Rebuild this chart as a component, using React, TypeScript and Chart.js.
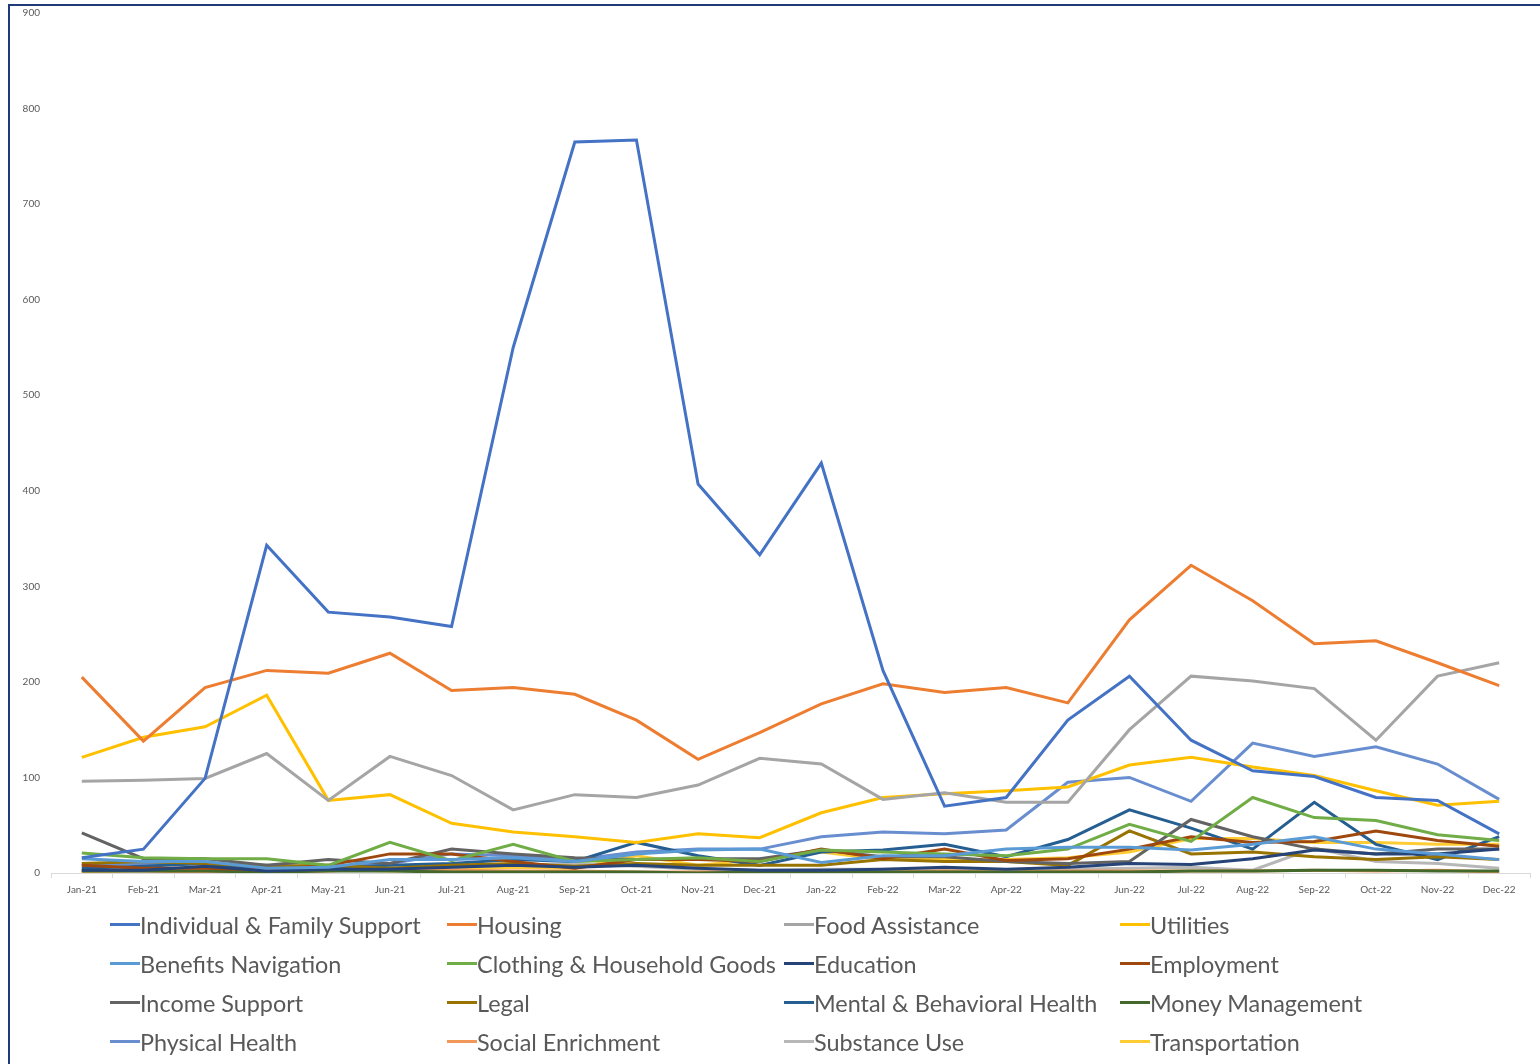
import React, { useEffect, useRef } from "react";
import { Chart, registerables } from "chart.js";

Chart.register(...registerables);

const months = [
  "Jan-21", "Feb-21", "Mar-21", "Apr-21", "May-21", "Jun-21", "Jul-21", "Aug-21", "Sep-21", "Oct-21", "Nov-21", "Dec-21",
  "Jan-22", "Feb-22", "Mar-22", "Apr-22", "May-22", "Jun-22", "Jul-22", "Aug-22", "Sep-22", "Oct-22", "Nov-22", "Dec-22",
];

const seriesNames = [
  "Individual & Family Support", "Housing", "Food Assistance", "Utilities",
  "Benefits Navigation", "Clothing & Household Goods", "Education", "Employment",
  "Income Support", "Legal", "Mental & Behavioral Health", "Money Management",
  "Physical Health", "Social Enrichment", "Substance Use", "Transportation",
];

const seriesColors = [
  "#4472C4", "#ED7D31", "#A5A5A5", "#FFC000",
  "#5B9BD5", "#70AD47", "#264478", "#9E480E",
  "#636363", "#997300", "#255E91", "#43682B",
  "#698ED0", "#F1975A", "#B7B7B7", "#FFCD33",
];

const individualFamily = [16, 25, 99, 343, 273, 268, 258, 550, 765, 767, 407, 333, 429, 212, 70, 79, 160, 206, 139, 107, 101, 79, 76, 41];
const housing = [205, 138, 194, 212, 209, 230, 191, 194, 187, 160, 119, 147, 177, 198, 189, 194, 178, 265, 322, 285, 240, 243, 220, 196];
const foodAssistance = [96, 97, 99, 125, 76, 122, 102, 66, 82, 79, 92, 120, 114, 77, 84, 74, 74, 150, 206, 201, 193, 139, 206, 220];
const utilities = [121, 142, 153, 186, 76, 82, 52, 43, 38, 32, 41, 37, 63, 79, 83, 86, 90, 113, 121, 111, 102, 86, 71, 75];
const benefitsNavigation = [15, 12, 12, 5, 6, 14, 14, 16, 12, 20, 24, 25, 11, 18, 18, 25, 27, 27, 24, 30, 38, 25, 20, 14];
const clothingHousehold = [21, 16, 15, 15, 8, 32, 13, 30, 12, 14, 16, 12, 24, 22, 20, 18, 25, 51, 33, 79, 58, 55, 40, 34];
const education = [3, 3, 7, 2, 4, 4, 6, 8, 6, 8, 5, 3, 3, 4, 6, 4, 6, 10, 9, 15, 24, 20, 20, 25];
const employment = [8, 5, 5, 3, 8, 20, 20, 12, 5, 14, 14, 12, 25, 15, 25, 13, 15, 25, 38, 32, 33, 44, 34, 28];
const incomeSupport = [42, 15, 15, 8, 14, 10, 25, 20, 16, 14, 15, 15, 24, 17, 17, 12, 10, 12, 56, 38, 25, 20, 25, 25];
const legal = [10, 12, 10, 7, 8, 5, 8, 10, 7, 10, 8, 8, 8, 14, 12, 12, 8, 44, 20, 22, 17, 14, 17, 14];
const mentalBehavioral = [5, 7, 10, 3, 5, 8, 10, 14, 12, 32, 18, 8, 22, 24, 30, 17, 35, 66, 47, 25, 74, 30, 14, 38];
const moneyManagement = [2, 2, 2, 1, 2, 2, 1, 1, 1, 1, 0, 1, 1, 1, 1, 1, 1, 1, 2, 2, 3, 3, 2, 2];
const physicalHealth = [8, 10, 10, 8, 6, 10, 20, 18, 14, 22, 25, 25, 38, 43, 41, 45, 95, 100, 75, 136, 122, 132, 114, 77];
const socialEnrichment = [2, 2, 1, 1, 2, 5, 3, 2, 2, 1, 1, 1, 1, 1, 2, 1, 2, 2, 2, 2, 3, 2, 3, 1];
const substanceUse = [3, 4, 4, 2, 3, 4, 6, 8, 10, 7, 4, 3, 4, 4, 4, 2, 4, 5, 6, 3, 26, 12, 10, 5];
const transportation = [1, 3, 2, 8, 4, 2, 4, 6, 5, 18, 8, 14, 22, 14, 14, 14, 16, 22, 36, 36, 32, 32, 30, 30];

const seriesValues = [
  individualFamily, housing, foodAssistance, utilities,
  benefitsNavigation, clothingHousehold, education, employment,
  incomeSupport, legal, mentalBehavioral, moneyManagement,
  physicalHealth, socialEnrichment, substanceUse, transportation,
];

const yMin = 0;
const yMax = 900;
const yStep = 100;

const FONT = "Lato, 'Open Sans', sans-serif";

export default function App() {
  const canvasRef = useRef<HTMLCanvasElement | null>(null);

  useEffect(() => {
    const canvas = canvasRef.current;
    if (!canvas) return;
    const chart = new Chart(canvas, {
      type: "line",
      data: {
        labels: months,
        datasets: seriesNames.map((name, i) => ({
          label: name,
          data: seriesValues[i],
          borderColor: seriesColors[i],
          backgroundColor: seriesColors[i],
          borderWidth: 3,
          pointRadius: 0,
          tension: 0,
          fill: false,
        })),
      },
      options: {
        animation: false,
        responsive: false,
        devicePixelRatio: 1,
        layout: { padding: { top: 8, right: 10, bottom: 0, left: 0 } },
        plugins: {
          legend: { display: false },
          tooltip: { enabled: false },
        },
        scales: {
          x: {
            offset: true,
            grid: {
              display: true,
              drawOnChartArea: false,
              drawTicks: true,
              tickLength: 5,
              color: "#D9D9D9",
              offset: true,
            },
            border: { display: true, color: "#D9D9D9", width: 1 },
            ticks: {
              color: "#595959",
              font: { family: FONT, size: 10 },
              maxRotation: 0,
              autoSkip: false,
              padding: 6,
            },
            afterFit: (scale: any) => {
              scale.height = 32;
            },
          },
          y: {
            min: yMin,
            max: yMax,
            grid: { display: false, drawTicks: false },
            border: { display: false },
            ticks: {
              stepSize: yStep,
              color: "#595959",
              font: { family: FONT, size: 10 },
              padding: 11,
            },
            afterFit: (scale: any) => {
              scale.width = 41;
            },
          },
        },
      },
    });
    return () => chart.destroy();
  }, []);

  return (
    <div
      style={{
        position: "fixed",
        left: 0,
        top: 0,
        width: 1540,
        height: 1064,
        background: "#FFFFFF",
        overflow: "hidden",
      }}
    >
      <canvas
        ref={canvasRef}
        width={1530}
        height={909}
        style={{ position: "absolute", left: 10, top: -4, width: 1530, height: 909 }}
      />
      <div
        style={{
          position: "absolute",
          left: 8,
          top: 4,
          width: 1540,
          height: 1070,
          borderLeft: "2px solid #1F3A77",
          borderTop: "2px solid #1F3A77",
          pointerEvents: "none",
        }}
      />
      <div
        style={{
          position: "absolute",
          left: 110,
          top: 905,
          display: "grid",
          gridTemplateColumns: "337px 337px 336px 336px",
          gridAutoRows: "39px",
          fontFamily: FONT,
          fontSize: 23.4,
          color: "#595959",
        }}
      >
        {seriesNames.map((name, i) => (
          <div key={name} style={{ display: "flex", alignItems: "center", whiteSpace: "nowrap", height: 39 }}>
            <span style={{ display: "inline-block", width: 30, height: 3, background: seriesColors[i], marginRight: 0 }} />
            <span>{name}</span>
          </div>
        ))}
      </div>
    </div>
  );
}
